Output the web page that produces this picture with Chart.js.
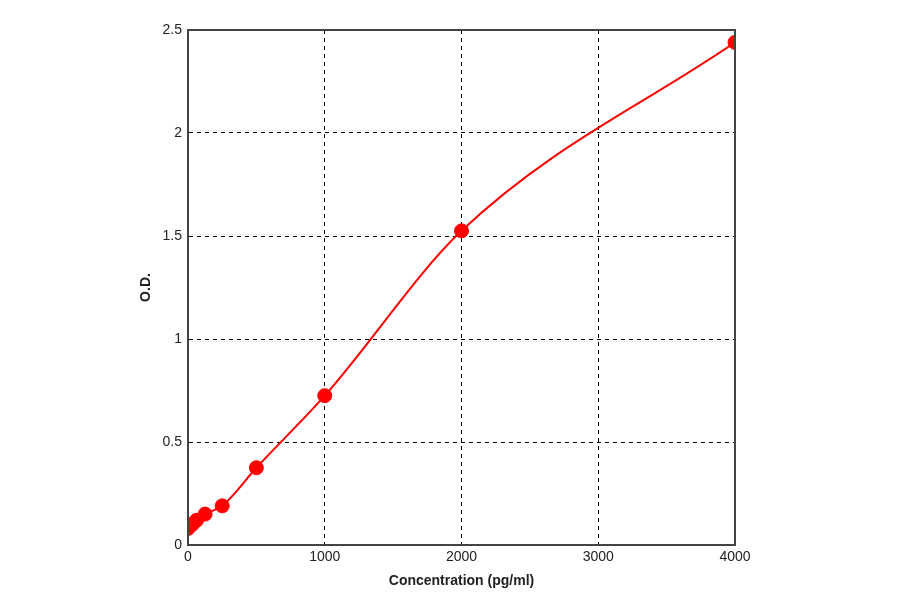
<!DOCTYPE html>
<html>
<head>
<meta charset="utf-8">
<script src="https://cdn.jsdelivr.net/npm/chart.js@4/dist/chart.umd.min.js"></script>
<style>
  body { margin: 0; background: #fff; }
</style>
</head>
<body>
<canvas id="std-curve" width="900" height="594"></canvas>
<script>
// standard curve readings
var concentrations = [0, 31.25, 62.5, 125, 250, 500, 1000, 2000, 4000];
var odValues = [0.08, 0.10, 0.12, 0.15, 0.19, 0.375, 0.725, 1.525, 2.44];
var xTicks = [0, 1000, 2000, 3000, 4000];
var yTicks = [0, 0.5, 1, 1.5, 2, 2.5];

var pts = concentrations.map(function (c, i) { return { x: c, y: odValues[i] }; });
var fontName = '"Liberation Sans", "DejaVu Sans", sans-serif';

var ctx = document.getElementById('std-curve').getContext('2d');
new Chart(ctx, {
    type: 'scatter',
    data: {
        datasets: [{
            label: 'fit',
            data: pts,
            showLine: true,
            cubicInterpolationMode: 'monotone',
            borderColor: '#ff0000',
            borderWidth: 2,
            pointRadius: 0
        }, {
            label: 'standards',
            data: pts,
            showLine: false,
            pointRadius: 7,
            pointBackgroundColor: '#ff0000',
            pointBorderColor: '#ff0000'
        }]
    },
    options: {
        responsive: false,
        animation: false,
        devicePixelRatio: 1,
        layout: { padding: { left: 138, right: 165, top: 30, bottom: 0 } },
        plugins: { legend: { display: false }, tooltip: { enabled: false } },
        scales: {
            x: {
                type: 'linear', min: 0, max: 4000,
                afterBuildTicks: function (s) { s.ticks = xTicks.map(function (v) { return { value: v }; }); },
                afterFit: function (s) { s.height = 49; },
                border: { display: true, color: '#000', width: 1, dash: [4, 4] },
                grid: { color: '#000', lineWidth: 1, drawTicks: false },
                ticks: { color: '#222', font: { family: fontName, size: 14 }, padding: 4,
                         maxRotation: 0, autoSkip: false, callback: function (v) { return String(v); } },
                title: { display: true, text: 'Concentration (pg/ml)', color: '#222', padding: { top: 4 },
                         font: { family: fontName, size: 14, weight: 'bold' } }
            },
            y: {
                type: 'linear', min: 0, max: 2.5,
                afterBuildTicks: function (s) { s.ticks = yTicks.map(function (v) { return { value: v }; }); },
                afterFit: function (s) { s.width = 50; },
                border: { display: true, color: '#000', width: 1, dash: [4, 4] },
                grid: { color: '#000', lineWidth: 1, drawTicks: false },
                ticks: { color: '#222', font: { family: fontName, size: 14 }, padding: 6,
                         autoSkip: false, callback: function (v) { return String(v); } },
                title: { display: true, text: 'O.D.', color: '#222', padding: 0,
                         font: { family: fontName, size: 14, weight: 'bold' } }
            }
        }
    },
    plugins: [{
        id: 'frame',
        afterDraw: function (chart) {
            var a = chart.chartArea, c = chart.ctx;
            c.save();
            c.strokeStyle = '#444';
            c.lineWidth = 2;
            c.setLineDash([]);
            c.strokeRect(a.left, a.top, a.right - a.left, a.bottom - a.top);
            c.restore();
        }
    }]
});
</script>
</body>
</html>
